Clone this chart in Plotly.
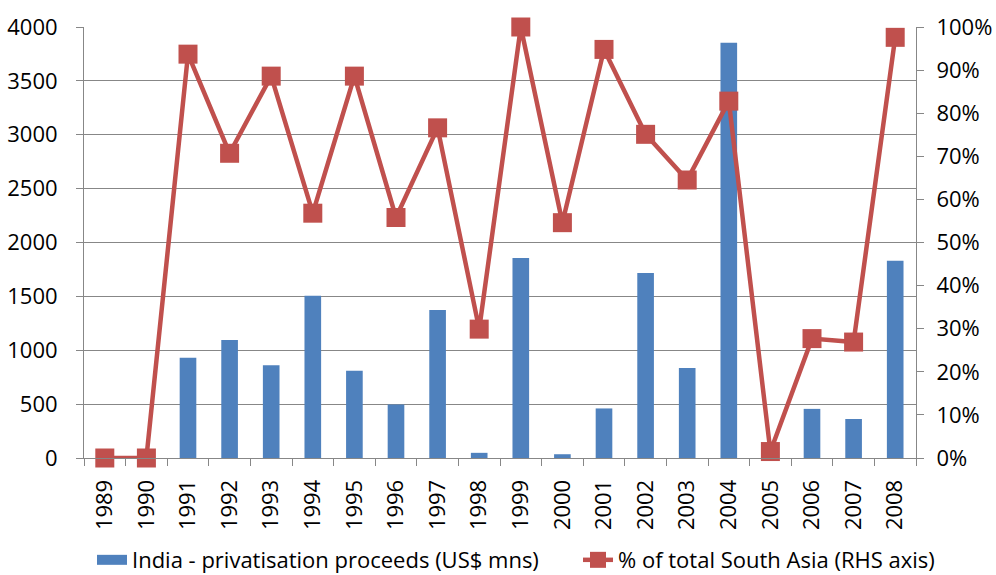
import plotly.graph_objects as go

years = ["1989", "1990", "1991", "1992", "1993", "1994", "1995", "1996", "1997", "1998",
         "1999", "2000", "2001", "2002", "2003", "2004", "2005", "2006", "2007", "2008"]
proceeds = [0, 0, 930, 1095, 860, 1505, 810, 497, 1374, 48,
            1856, 35, 460, 1717, 835, 3854, 0, 456, 362, 1830]
share_pct = [0.0, 0.0, 93.7, 70.7, 88.6, 56.8, 88.6, 55.8, 76.6, 29.9,
             100.0, 54.6, 94.8, 75.1, 64.5, 82.8, 1.5, 27.7, 26.9, 97.6]

bar_name = "India - privatisation proceeds (US$ mns)"
line_name = "% of total South Asia (RHS axis)"

FONT = "Open Sans"
FS = 22
GRID = "#878787"
BLUE = "#4F81BD"
RED = "#C0504D"

fig = go.Figure()
fig.add_trace(go.Bar(
    x=years, y=proceeds, name=bar_name,
    marker=dict(color=BLUE, line=dict(width=0)),
    yaxis="y", showlegend=False,
))
# legend key for the bars (wide rectangle like the reference)
fig.add_trace(go.Scatter(
    x=[None], y=[None], name=bar_name, mode="lines",
    line=dict(color=BLUE, width=14), yaxis="y", legend="legend",
))
fig.add_trace(go.Scatter(
    x=years, y=[v / 100 for v in share_pct], name=line_name,
    mode="lines+markers",
    line=dict(color=RED, width=4.5),
    marker=dict(symbol="square", size=19, color=RED),
    yaxis="y2", cliponaxis=False, legend="legend2",
))

LEG_Y = -0.188
fig.update_layout(
    width=996, height=575,
    margin=dict(l=84, r=80, t=27, b=117, autoexpand=False),
    paper_bgcolor="white", plot_bgcolor="white",
    font=dict(family=FONT, size=FS, color="#000000"),
    bargap=0.6,
    showlegend=True,
    legend=dict(orientation="h", x=(92 - 84) / 832, xanchor="left", y=LEG_Y, yanchor="top",
                font=dict(family=FONT, size=FS)),
    legend2=dict(orientation="h", x=(578 - 84) / 832, xanchor="left", y=LEG_Y, yanchor="top",
                 font=dict(family=FONT, size=FS)),
    xaxis=dict(
        type="category", tickangle=-90, range=[-0.5, 19.5], automargin=False,
        showline=True, linecolor=GRID, linewidth=1,
        ticks="outside", ticklen=7, tickcolor=GRID, tickson="boundaries",
        showgrid=False, tickfont=dict(size=FS), ticklabelstandoff=12,
    ),
    yaxis=dict(
        range=[0, 4000], dtick=500, tickformat="d", automargin=False,
        showline=True, linecolor=GRID, linewidth=1,
        ticks="outside", ticklen=7, tickcolor=GRID,
        showgrid=True, gridcolor=GRID, gridwidth=1,
        zeroline=False, tickfont=dict(size=FS), ticklabelstandoff=14,
    ),
    yaxis2=dict(
        range=[0, 1], dtick=0.1, tickformat=".0%", automargin=False,
        overlaying="y", side="right",
        showline=True, linecolor=GRID, linewidth=1,
        ticks="outside", ticklen=7, tickcolor=GRID,
        showgrid=False, zeroline=False, tickfont=dict(size=FS), ticklabelstandoff=8,
    ),
)

fig.write_html("out.html", config={"displayModeBar": False},
               post_script="document.body.style.margin='0';")
